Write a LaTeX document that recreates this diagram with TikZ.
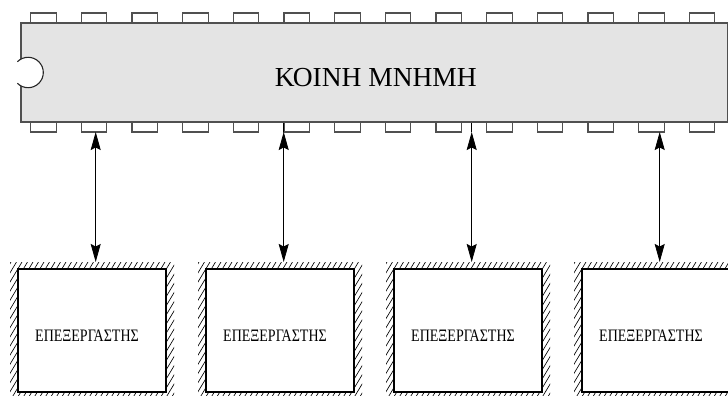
\documentclass[tikz,border=0pt]{standalone}
\usepackage{fontspec}
\setmainfont{Liberation Serif}
\usetikzlibrary{arrows.meta}
\definecolor{chipgray}{RGB}{228,228,228}
\definecolor{chipline}{RGB}{80,80,80}
\begin{document}
\begin{tikzpicture}[x=1pt,y=-1pt,
  chipbody/.style={draw=chipline, fill=chipgray, line width=1.3pt, inner sep=0pt,
    minimum width=706.5pt, minimum height=99pt},
  chippin/.style={draw=chipline, fill=white, line width=1.1pt},
  notchline/.style={draw=black!85, line width=1.1pt},
  cpu/.style={draw=black, fill=white, line width=1.4pt, inner sep=0pt,
    minimum width=148pt, minimum height=123pt},
  cpulabel/.style={font=\fontsize{17.5}{18}\selectfont, inner sep=0pt},
  memlabel/.style={font=\fontsize{27.5}{28}\selectfont, inner sep=0pt, anchor=base},
  hatchline/.style={line width=0.65pt},
  link/.style={{Stealth[length=18pt,width=10pt,inset=2.5pt]}-{Stealth[length=18pt,width=10pt,inset=2.5pt]}, line width=0.8pt},
  stub/.style={line width=0.8pt}
]
\useasboundingbox (0,0) rectangle (728,396);

% pins on both long sides of the memory chip
\foreach \k in {0,...,13} {
  \pgfmathsetmacro\px{30.7+50.66*\k}
  \draw[chippin] (\px,13) rectangle ++(25.5,10);
  \draw[chippin] (\px,122) rectangle ++(25.5,10);
}

% chip body with its orientation notch
\node[chipbody] (mem) at (374.25,72.5) {};
\fill[white] (28.1,72.5) ++(135:15.2) arc[start angle=135, end angle=-135, radius=15.2] -- cycle;
\draw[notchline] (28.1,72.5) ++(135:15.2) arc[start angle=135, end angle=-135, radius=15.2];
\node[memlabel] (memtext) at (375.8,86.7) {ΚΟΙΝΗ ΜΝΗΜΗ};

% processors: hatched frame, white box, label
\foreach \i in {1,...,4} {
  \pgfmathsetmacro\lx{18+188*(\i-1)}
  \begin{scope}
    \clip (\lx-8,262) rectangle (\lx+156,400);
    \foreach \t in {-90,-84.5,...,165} \draw[hatchline] (\lx+\t,400) -- ++(83,-138);
  \end{scope}
  \node[cpu] (cpu\i) at (\lx+74,330.5) {};
  \node[cpulabel] (lbl\i) at (\lx+69,335.7) {\scalebox{0.8}[1]{ΕΠΕΞΕΡΓΑΣΤΗΣ}};
  \coordinate (s\i) at (\lx+77.7,132);
  \coordinate (e\i) at (\lx+77.7,262);
}

% bidirectional links between memory and processors
\draw[stub] (s2) -- (s2 |- mem.south);
\draw[stub] (s3) -- (s3 |- mem.south);
\foreach \i in {1,...,4} \draw[link] (s\i) -- (e\i);
\end{tikzpicture}
\end{document}
